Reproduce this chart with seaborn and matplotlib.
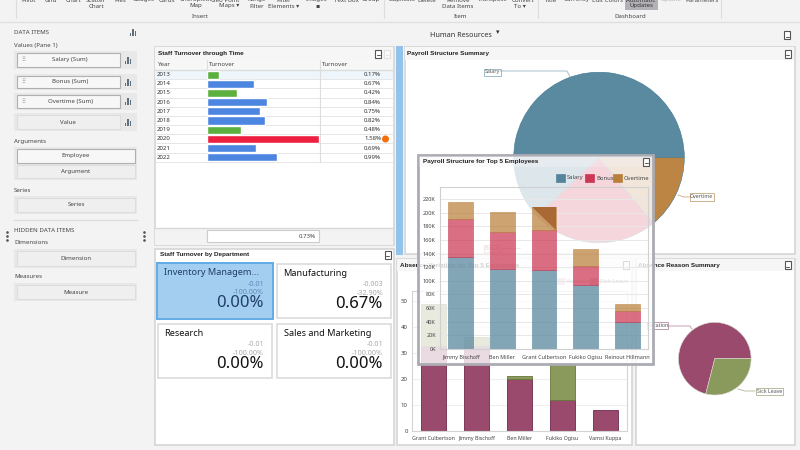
import matplotlib
matplotlib.use("Agg")
import matplotlib.pyplot as plt
from matplotlib.patches import Rectangle, Polygon, Circle
import numpy as np
import seaborn as sns

sns.set_theme(style="white")
plt.rcParams["font.family"] = ["Noto Sans", "DejaVu Sans"]

# ---------- data ----------
years = ["2013","2014","2015","2016","2017","2018","2019","2020","2021","2022"]
turnover = [0.17,0.67,0.42,0.84,0.75,0.82,0.48,1.58,0.69,0.99]
turnover_grp = ["low","mid","low","mid","mid","mid","low","high","mid","mid"]
turnover_avg = "0.73%"

payroll_labels = ["Salary","Bonus","Overtime"]
payroll_share = [62,24,14]

top5_pay = ["Jimmy Bischoff","Ben Miller","Grant Culbertson","Fukiko Ogisu","Reinout Hillmann"]
salary = [135,118,116,94,39.6]
bonus = [55.5,53.5,59,27,16.4]
overtime = [25,29.5,33.7,25.6,9.5]

top5_abs = ["Grant Culbertson","Jimmy Bischoff","Ben Miller","Fukiko Ogisu","Vamsi Kuppa"]
vacation = [32.5,32.5,20,12,8]
sick = [16.5,3.5,1,14,0]

reason_labels = ["Vacation","Sick Leave"]
reason_share = [71,29]

dept_names = ["Inventory Managem...","Manufacturing","Research","Sales and Marketing"]
dept_delta = ["-0.01","-0.003","-0.01","-0.01"]
dept_pct = ["-100.00%","-32.90%","-100.00%","-100.00%"]
dept_val = ["0.00%","0.67%","0.00%","0.00%"]

ribbon_a = [("Pivot",29),("Grid",51),("Chart",73),("Scatter",96),("Pies",120),("Gauges",144),
            ("Cards",167),("Choropleth",196),("Geo Point",225),("Range",257),("Filter",284),
            ("Images",317),("Text Box",346),("Group",371),("Duplicate",402),("Delete",427),
            ("Remove",458),("Transpose",493),("Convert",523),("Title",551),("Currency",577),
            ("Edit Colors",607),("Update",671),("Parameters",702)]
ribbon_b = [("Chart",96),("Map",196),("Maps ▾",229),("Filter",257),("Elements ▾",284),("▪",317),
            ("Data Items",458),("To ▾",520)]

# ---------- colours ----------
C_SAL, C_BON, C_OVT = "#54849c", "#cc3754", "#ba803a"
C_VAC, C_SICK = "#9a4a6c", "#8a9a5c"
TXT = "#444444"
BG = "#f3f3f3"
BORD = "#d6d6d6"
BOLD = "Liberation Sans"

W, H = 800, 450
fig = plt.figure(figsize=(8, 4.5), dpi=100, facecolor=BG)

def full(z):
    a = fig.add_axes([0, 0, 1, 1], zorder=z)
    a.set_xlim(0, W); a.set_ylim(H, 0); a.axis("off")
    return a

def sub(x0, y0, x1, y1, z):
    return fig.add_axes([x0/W, 1-y1/H, (x1-x0)/W, (y1-y0)/H], zorder=z)

def box(a, x0, y0, x1, y1, fc="white", ec="none", lw=1, **k):
    a.add_patch(Rectangle((x0, y0), x1-x0, y1-y0, facecolor=fc, edgecolor=ec, linewidth=lw, **k))

def txt(a, x, y, s, size=4.4, color=TXT, ha="left", va="center", **k):
    a.text(x, y, s, fontsize=size, color=color, ha=ha, va=va, **k)

def title(a, x, y, s):
    a.text(x, y, s, fontsize=4.55, color="#222222", ha="left", va="center", fontweight="bold", family=BOLD)

def export_icon(a, x, y, color="#555555", alpha=1):
    a.add_patch(Rectangle((x-3, y-4), 6, 8, facecolor="white", edgecolor=color, linewidth=0.8, alpha=alpha))
    a.plot([x-1.5, x+1.5], [y+1.5, y+1.5], color=color, lw=0.7, alpha=alpha)

c = full(0)

# ---------- ribbon ----------
for s, x in ribbon_a:
    col = "#b5b5b5" if s == "Update" else TXT
    txt(c, x, 0, s, ha="center", color=col)
for s, x in ribbon_b:
    txt(c, x, 6, s, ha="center")
box(c, 625, 0, 658, 10, fc="#b3b0b6")
txt(c, 641, 0, "Automatic", ha="center", color="#333333")
txt(c, 641, 6, "Updates", ha="center", color="#333333")
txt(c, 200, 16, "Insert", ha="center")
txt(c, 461, 16, "Item", ha="center")
txt(c, 630, 16, "Dashboard", ha="center")
for x in [16, 384, 538, 721]:
    c.plot([x, x], [0, 18], color="#dddddd", lw=0.8)
c.plot([0, W], [21.5, 21.5], color="#e0e0e0", lw=1)

# ---------- left panel ----------
txt(c, 14, 32, "DATA ITEMS", size=4.4)
txt(c, 14, 45, "Values (Pane 1)")
def chart_icon(x, y):
    for i, hh in enumerate([3, 7, 5]):
        box(c, x-3.5+i*2.5, y+3.5-hh, x-3.5+i*2.5+1.6, y+3.5, fc="#5f6f7c")
chart_icon(133, 32)
for s, y0, y1, framed in [("Salary (Sum)",51,69,True),("Bonus (Sum)",74,90,True),
                          ("Overtime (Sum)",93,110,True),("Value",113,131,False)]:
    box(c, 14, y0, 137, y1, fc="#e8e8e8")
    box(c, 17, y0+2, 120, y1-2, fc="#f7f7f7" if framed else "#efefef", ec="#b0b0b0" if framed else "#dddddd", lw=0.8)
    txt(c, 70 if framed else 68, (y0+y1)/2, s, ha="center")
    chart_icon(128, (y0+y1)/2)
    if framed:
        txt(c, 23, (y0+y1)/2, "⠿", size=4, color="#888888", ha="center")
txt(c, 14, 141, "Arguments")
box(c, 14, 147, 137, 180, fc="#e8e8e8")
box(c, 17, 149, 135, 163, fc="#f7f7f7", ec="#b0b0b0", lw=0.8)
box(c, 17, 165, 135, 178, fc="#efefef", ec="#dddddd", lw=0.8)
txt(c, 76, 156, "Employee", ha="center")
txt(c, 76, 171, "Argument", ha="center")
txt(c, 14, 190, "Series")
box(c, 14, 196, 137, 214, fc="#e8e8e8")
box(c, 17, 198, 135, 212, fc="#efefef", ec="#dddddd", lw=0.8)
txt(c, 76, 205, "Series", ha="center")
c.plot([14, 137], [220, 220], color="#dddddd", lw=1)
txt(c, 14, 230, "HIDDEN DATA ITEMS", size=4.4)
txt(c, 14, 243, "Dimensions")
box(c, 14, 249, 137, 268, fc="#e8e8e8")
box(c, 17, 251, 135, 266, fc="#efefef", ec="#dddddd", lw=0.8)
txt(c, 76, 258, "Dimension", ha="center")
txt(c, 14, 277, "Measures")
box(c, 14, 283, 137, 301, fc="#e8e8e8")
box(c, 17, 285, 135, 299, fc="#efefef", ec="#dddddd", lw=0.8)
txt(c, 76, 292, "Measure", ha="center")
for x in [7, 144]:
    for y in [232, 236, 240]:
        c.plot([x], [y], marker="o", ms=0.9, color="#555555")

# ---------- title ----------
txt(c, 430, 35.5, "Human Resources", size=5.2, color="#333333")
txt(c, 495.5, 32.5, "▾", size=5, color="#333333")
export_icon(c, 787, 35)

# ---------- turnover panel ----------
box(c, 154.5, 46.5, 393.5, 245, ec=BORD, lw=1.2)
box(c, 155, 47, 393, 60, fc="#f6f6f6")
title(c, 157.5, 53.5, "Staff Turnover through Time")
export_icon(c, 378, 53.5); export_icon(c, 387, 53.5, color="#cccccc", alpha=0.5)
box(c, 155, 60, 393, 69.5, fc="#f7f7f7")
c.plot([155, 393], [69.5, 69.5], color="#dddddd", lw=1)
txt(c, 158, 64.5, "Year"); txt(c, 209, 64.5, "Turnover"); txt(c, 322, 64.5, "Turnover")
row_h = 9.18
box(c, 155, 70, 393, 70+row_h, fc="#eef6fc")
for i, (y, v) in enumerate(zip(years, turnover)):
    yy = 70 + row_h*(i+0.5)
    txt(c, 157, yy, y, color="#333333")
    txt(c, 381, yy, f"{v:.2f}%", ha="right", color="#333333")
    c.plot([155, 393], [70+row_h*(i+1)]*2, color="#e6e6e6", lw=0.7)
for x in [206.5, 319.5]:
    c.plot([x, x], [60, 161.8], color="#dddddd", lw=0.8)
c.add_patch(Circle((385.5, 139), 2.8, color="#f07010"))
box(c, 155, 228, 393, 245, fc=BG)
c.plot([155, 393], [228, 228], color="#d8d8d8", lw=1)
box(c, 207, 230, 319, 242, ec="#cccccc", lw=0.8)
txt(c, 316, 236, turnover_avg, ha="right")
ax_t = sub(207, 70, 319, 70+row_h*10, 1)
sns.barplot(y=years, x=turnover, hue=turnover_grp, orient="h", dodge=False, legend=False, width=0.88,
            palette={"low": "#5cb040", "mid": "#4c86e0", "high": "#ee2040"}, saturation=1, ax=ax_t)
ax_t.set_xlim(0, max(turnover)); ax_t.axis("off")

# ---------- splitter ----------
box(c, 396, 46, 403, 255, fc="#93c3ea")

# ---------- department panel ----------
box(c, 154.5, 248.5, 393.5, 445, ec=BORD, lw=1.2)
title(c, 159.5, 254.5, "Staff Turnover by Department")
export_icon(c, 387.5, 254.5)
cards = [(157,263,273,319),(277,264,391,318),(158,324,272,378),(277,324,391,378)]
for i, (x0, y0, x1, y1) in enumerate(cards):
    sel = i == 0
    box(c, x0, y0, x1, y1, fc="#a4cef0" if sel else "white", ec="#62ace6" if sel else "#dcdcdc", lw=1.4 if sel else 1.2)
    cm = "#1f3f66" if sel else "#111111"
    cs = "#5f8db8" if sel else "#aaaaaa"
    rx = 264 if i in (0, 2) else 383
    lx = 164 if i in (0, 2) else 283.5
    txt(c, lx, y0+9.5, dept_names[i], size=6.6, color=cm)
    txt(c, rx, y0+21, dept_delta[i], size=5.2, color=cs, ha="right")
    txt(c, rx, y0+29.5, dept_pct[i], size=5.2, color=cs, ha="right")
    txt(c, rx, y0+40, dept_val[i], size=12, color=cm, ha="right")

# ---------- payroll summary ----------
box(c, 404.5, 46.5, 794.5, 254, ec=BORD, lw=1.2)
box(c, 405, 47, 794, 60, fc="#f6f6f6")
title(c, 407, 53.5, "Payroll Structure Summary")
export_icon(c, 787.5, 53.5)
R = 85.3
ax_p = sub(599-R, 157.5-R, 599+R, 157.5+R, 1)
ax_p.pie(payroll_share, colors=["#5a8aa0", C_BON, "#bd8544"], startangle=0, radius=1,
         wedgeprops=dict(edgecolor="#3f7590", linewidth=0.4))
ax_p.set_xlim(-1, 1); ax_p.set_ylim(-1, 1)
def callout(s, x0, y0, x1, y1, col, line):
    c.plot(line[0], line[1], color=col, lw=0.7, alpha=0.8)
    box(c, x0, y0, x1, y1, ec=col, lw=0.7, alpha=0.85)
    txt(c, (x0+x1)/2, (y0+y1)/2, s, size=3.8, ha="center", color="#555555")
callout("Salary", 484, 68.5, 500.5, 75.5, "#8fb0c0", ([500, 567, 570], [71, 71, 77]))
callout("Overtime", 690, 193, 713.5, 200.5, "#c9a37a", ([678, 684, 690], [195, 197, 197]))
callout("Bonus", 483.5, 245, 501, 251.5, "#d77", ([501, 520], [248, 248]))

# ---------- absence variation ----------
box(c, 397, 258.5, 632, 445, ec=BORD, lw=1.2)
box(c, 397, 259, 632, 271, fc="#f6f6f6")
title(c, 400, 265, "Absence Variation for Top 5 Employees")
export_icon(c, 626, 265)
box(c, 557, 278, 564.5, 285, fc="#e9b9cc"); txt(c, 566, 281.5, "Vacation", size=4.2)
box(c, 590, 278, 597.5, 285, fc=C_VAC); txt(c, 600, 281.5, "Sick Leave", size=4.2)
ax_a = sub(412, 290.7, 627, 430.7, 1)
sns.barplot(x=top5_abs, y=vacation, color=C_VAC, saturation=1, width=0.6, edgecolor="#6f2a4c", linewidth=0.6, ax=ax_a)
n0 = len(ax_a.patches)
sns.barplot(x=top5_abs, y=sick, bottom=vacation, color=C_SICK, saturation=1, width=0.6, edgecolor="#66783a", linewidth=0.6, ax=ax_a)
for p in ax_a.patches[n0:]:
    if p.get_height() == 0:
        p.set_visible(False)
ax_a.set_ylim(0, 54); ax_a.set_yticks(range(0, 51, 10))
ax_a.set_xlim(-0.5, 4.5)
ax_a.yaxis.grid(True, color="#efefef", lw=0.8); ax_a.set_axisbelow(True)
ax_a.tick_params(axis="x", labelsize=3.8, labelcolor=TXT, length=0, pad=3.5)
ax_a.tick_params(axis="y", labelsize=4.4, labelcolor=TXT, length=0, pad=3)
ax_a.set_xlabel(""); ax_a.set_ylabel("")
for s in ax_a.spines.values():
    s.set_color("#d4d4d4"); s.set_linewidth(0.8)

# ---------- absence reason ----------
box(c, 636, 258.5, 794.5, 445, ec=BORD, lw=1.2)
box(c, 637, 259, 794, 271, fc="#f6f6f6")
title(c, 638, 265, "Absence Reason Summary")
export_icon(c, 787.5, 265)
R2 = 36.3
ax_r = sub(714.8-R2, 358.7-R2, 714.8+R2, 358.7+R2, 1)
ax_r.pie(reason_share, colors=[C_VAC, C_SICK], startangle=0, radius=1,
         wedgeprops=dict(edgecolor="#d8d8d0", linewidth=0.4))
ax_r.set_xlim(-1, 1); ax_r.set_ylim(-1, 1)
callout("Vacation", 647, 322, 668, 329, "#b58aa0", ([668, 690, 692], [326, 326, 329]))
callout("Sick Leave", 755.5, 388, 783, 394.5, "#a8b08c", ([738, 745, 755], [389, 391, 391]))

# ---------- floating overlay ----------
o = full(5)
box(o, 417.5, 154.5, 653, 364, fc="white", ec="none", alpha=0.8)
o.add_patch(Rectangle((417.5, 154.5), 235.5, 209.5, fill=False, edgecolor="#ababb3", linewidth=2))
box(o, 419, 156, 652, 167, fc="#f4f4f4", alpha=0.35)
title(o, 423, 161.5, "Payroll Structure for Top 5 Employees")
export_icon(o, 646, 161.5)
for s, x, col in zip(payroll_labels, [556, 585, 613], [C_SAL, C_BON, C_OVT]):
    box(o, x, 174, x+8.5, 182, fc=col, ec=col, lw=0.5)
    txt(o, x+11, 178, s, size=4.2)

ax_o = sub(440, 187, 648, 349, 6)
ax_o.patch.set_alpha(0)
w = 0.6
A = 0.72
base = np.array(salary)
sns.barplot(x=top5_pay, y=salary, color=C_SAL, saturation=1, alpha=A, width=w, edgecolor="#4d8198", linewidth=0.5, ax=ax_o)
sns.barplot(x=top5_pay, y=bonus, bottom=salary, color=C_BON, saturation=1, alpha=A, width=w, edgecolor="#c83550", linewidth=0.5, ax=ax_o)
top2 = base + np.array(bonus)
sns.barplot(x=top5_pay, y=overtime, bottom=top2, color=C_OVT, saturation=1, alpha=A, width=w, edgecolor="#b98040", linewidth=0.5, ax=ax_o)
tot = top2 + np.array(overtime)
ax_o.add_patch(Polygon([(2-w/2, tot[2]), (2+w/2, tot[2]), (2+w/2, top2[2])], closed=True, facecolor="#a5602c", alpha=0.85, linewidth=0))
ax_o.set_ylim(0, 237.5); ax_o.set_xlim(-0.5, 4.5)
ax_o.set_yticks(range(0, 221, 20)); ax_o.set_yticklabels([f"{v}K" for v in range(0, 221, 20)])
ax_o.yaxis.grid(True, color="#e8e8e8", lw=0.7); ax_o.set_axisbelow(True)
ax_o.tick_params(axis="x", labelsize=3.9, labelcolor=TXT, length=0, pad=4)
ax_o.tick_params(axis="y", labelsize=4.0, labelcolor=TXT, length=0, pad=3)
ax_o.set_xlabel(""); ax_o.set_ylabel("")
for s in ax_o.spines.values():
    s.set_color("#d0d0d0"); s.set_linewidth(0.8)

fig.savefig("out.png", dpi=100, facecolor=BG)
